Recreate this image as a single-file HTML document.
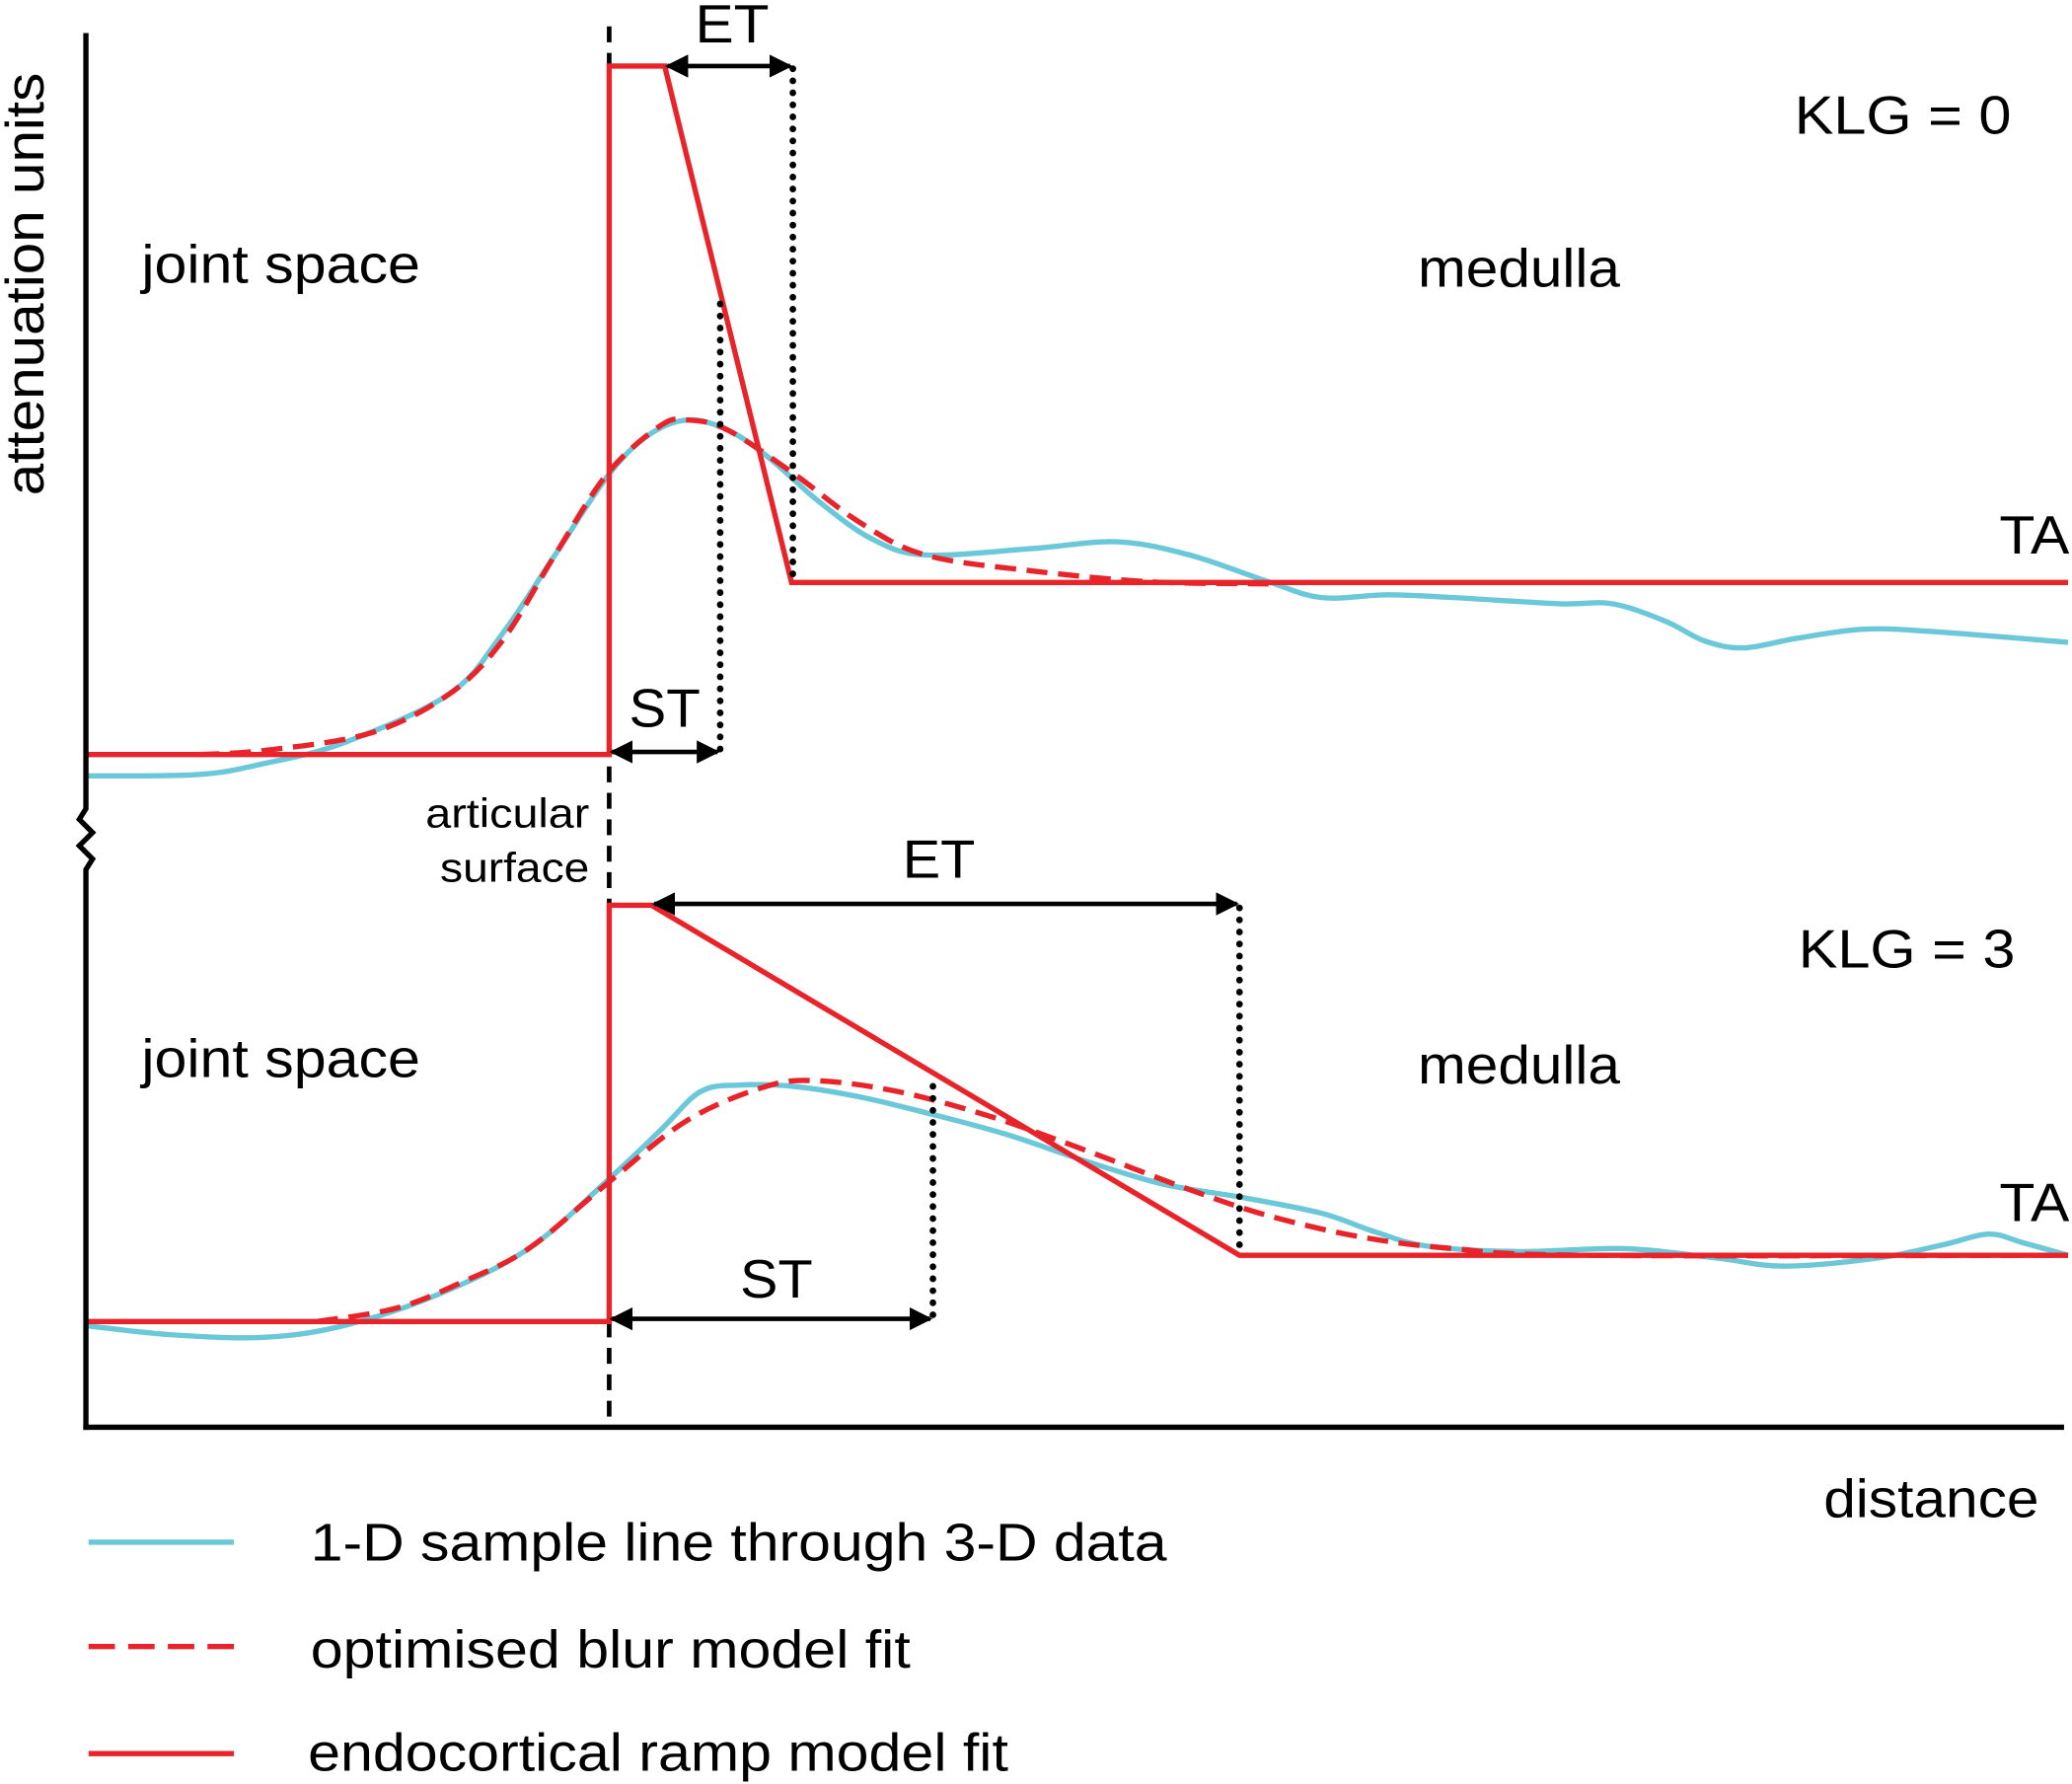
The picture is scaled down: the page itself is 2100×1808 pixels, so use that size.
<!DOCTYPE html>
<html><head><meta charset="utf-8"><style>
html,body{margin:0;padding:0;background:#fff}
svg{display:block}
text{font-family:"Liberation Sans",Arial,sans-serif;fill:#000}
</style></head><body>
<svg id="chart" width="2100" height="1808" viewBox="0 0 1568 1350" xmlns="http://www.w3.org/2000/svg">
<defs>
<marker id="ah" viewBox="0 0 10 10" refX="9" refY="5" markerWidth="5" markerHeight="5" orient="auto-start-reverse"><path d="M0,0 L10,5 L0,10 z" fill="#000"/></marker>
</defs>
<line x1="461" y1="20" x2="461" y2="1080" stroke="#000" stroke-width="3.5" stroke-dasharray="12,8"/>
<g id="marks"></g>
<g stroke="#000" stroke-width="4" fill="none">
<path d="M65,25 L65,612 L60,620 L70,630 L60,640 L70,650 L65,658 L65,1082"/>
<path d="M63,1080 L1562,1080"/>
</g>
<g stroke="#000" stroke-width="5" stroke-dasharray="0.1,9" stroke-linecap="round">
<line x1="600" y1="52" x2="600" y2="441"/>
<line x1="545" y1="230" x2="545" y2="571"/>
<line x1="938" y1="687" x2="938" y2="950"/>
<line x1="706" y1="822" x2="706" y2="1000"/>
</g>
<g stroke="#000" stroke-width="3.5" marker-start="url(#ah)" marker-end="url(#ah)">
<line x1="505" y1="50" x2="598" y2="50"/>
<line x1="463" y1="569" x2="543" y2="569"/>
<line x1="495" y1="684" x2="936" y2="684"/>
<line x1="463" y1="998" x2="704" y2="998"/>
</g>
<g font-size="41" lengthAdjust="spacingAndGlyphs">
<text transform="translate(33,215) rotate(-90)" text-anchor="middle" textLength="320" lengthAdjust="spacingAndGlyphs">attenuation units</text>
<text x="107" y="214" textLength="211" lengthAdjust="spacingAndGlyphs">joint space</text>
<text x="1073" y="217" textLength="153" lengthAdjust="spacingAndGlyphs">medulla</text>
<text x="1358" y="101" textLength="164" lengthAdjust="spacingAndGlyphs">KLG = 0</text>
<text x="1513" y="419" textLength="53" lengthAdjust="spacingAndGlyphs">TA</text>
<text x="526" y="32" textLength="56" lengthAdjust="spacingAndGlyphs">ET</text>
<text x="476" y="550" textLength="54" lengthAdjust="spacingAndGlyphs">ST</text>
<text x="107" y="815" textLength="211" lengthAdjust="spacingAndGlyphs">joint space</text>
<text x="1073" y="820" textLength="153" lengthAdjust="spacingAndGlyphs">medulla</text>
<text x="1361" y="732" textLength="164" lengthAdjust="spacingAndGlyphs">KLG = 3</text>
<text x="1513" y="924" textLength="53" lengthAdjust="spacingAndGlyphs">TA</text>
<text x="683" y="664" textLength="55" lengthAdjust="spacingAndGlyphs">ET</text>
<text x="560" y="982" textLength="55" lengthAdjust="spacingAndGlyphs">ST</text>
<text x="1380" y="1148" textLength="163" lengthAdjust="spacingAndGlyphs">distance</text>
</g>
<g font-size="31">
<text x="322" y="626" textLength="124" lengthAdjust="spacingAndGlyphs">articular</text>
<text x="333" y="667" textLength="113" lengthAdjust="spacingAndGlyphs">surface</text>
</g>
<g font-size="40">
<line x1="67" y1="1167" x2="177" y2="1167" stroke="#6ac8d9" stroke-width="4"/>
<text x="235" y="1181" textLength="648" lengthAdjust="spacingAndGlyphs">1-D sample line through 3-D data</text>
<line x1="67" y1="1246" x2="177" y2="1246" stroke="#e8232a" stroke-width="4" stroke-dasharray="20,10"/>
<text x="235" y="1262" textLength="454" lengthAdjust="spacingAndGlyphs">optimised blur model fit</text>
<line x1="67" y1="1327" x2="177" y2="1327" stroke="#e8232a" stroke-width="4"/>
<text x="233" y="1340" textLength="530" lengthAdjust="spacingAndGlyphs">endocortical ramp model fit</text>
</g>
</svg>
<script>
// distance units along sample line
var topCyanX=[0,85,135,195,275,315,355,395,425,455,485,515,555,595,635,715,780,835,895,935,985,1035,1115,1155,1195,1225,1255,1295,1345,1395,1500];
var topCyanV=[-3.1,-2.9,-1.3,1.7,8.8,17.5,29,40.5,46.3,48.6,47.2,43.4,36.7,31.3,29,29.9,30.9,29,25.1,22.8,23.2,22.8,21.9,21.9,19.4,16.5,15.5,16.9,18.2,17.9,16.3];
var topBlurX=[85,135,215,275,315,355,395,435,455,485,535,585,635,715,805,895];
var topBlurV=[0,0.6,3.1,8.8,16.5,29,40.9,47.8,48.6,47.2,40.9,33.8,29,26.7,25.1,24.8];
var topRampX=[0,396,396,438,534,1500];
var topRampV=[0,0,100,100,25,25];
var botCyanX=[0,65,135,195,265,335,395,435,465,495,535,585,635,695,755,815,875,935,975,1015,1085,1165,1235,1285,1355,1405,1440,1465,1500];
var botCyanV=[-1,-3.2,-3.8,-1,6.3,17.5,34,46,55.2,56.8,56.5,54,50.2,45.1,38.7,33,29.8,26,21.6,18.1,16.8,17.5,15.2,13.3,15.2,18.4,21,19,15.9];
var botBlurX=[175,235,285,335,395,455,515,555,615,685,755,835,895,965,1035,1135,1500];
var botBlurV=[0,3.2,9.5,17.5,33.3,48.3,56.5,57.8,55.2,49.2,41.3,31.7,25.4,20.3,17.5,15.9,15.9];
var botRampX=[0,396,396,428,873,1500];
var botRampV=[0,0,100,100,15.9,15.9];

function xs(d){return 65+d;}
function yTop(v){return 571-v*5.21;}
function yBot(v){return 1000-v*3.15;}
function pts(X,V,ys){return X.map(function(x,i){return [xs(x),ys(V[i])];});}
function smooth(p){
  var d='M'+p[0][0]+','+p[0][1];
  for(var i=0;i<p.length-1;i++){
    var p0=p[i-1]||p[i],p1=p[i],p2=p[i+1],p3=p[i+2]||p2;
    var c1x=p1[0]+(p2[0]-p0[0])/6,c1y=p1[1]+(p2[1]-p0[1])/6;
    var c2x=p2[0]-(p3[0]-p1[0])/6,c2y=p2[1]-(p3[1]-p1[1])/6;
    d+=' C'+c1x+','+c1y+' '+c2x+','+c2y+' '+p2[0]+','+p2[1];
  }
  return d;
}
function poly(p){return 'M'+p.map(function(q){return q[0]+','+q[1];}).join(' L');}
var g=document.getElementById('marks');
function add(d,color,dash,name){
  var e=document.createElementNS('http://www.w3.org/2000/svg','path');
  e.setAttribute('d',d);e.setAttribute('fill','none');e.setAttribute('stroke',color);
  e.setAttribute('stroke-width','4');if(dash)e.setAttribute('stroke-dasharray',dash);
  
  
  g.appendChild(e);
}
add(smooth(pts(topCyanX,topCyanV,yTop)),'#6ac8d9',null,'sample-line-klg0');
add(smooth(pts(botCyanX,botCyanV,yBot)),'#6ac8d9',null,'sample-line-klg3');
add(smooth(pts(topBlurX,topBlurV,yTop)),'#e8232a','16,8','blur-fit-klg0');
add(smooth(pts(botBlurX,botBlurV,yBot)),'#e8232a','16,8','blur-fit-klg3');
add(poly(pts(topRampX,topRampV,yTop)),'#e8232a',null,'ramp-fit-klg0');
add(poly(pts(botRampX,botRampV,yBot)),'#e8232a',null,'ramp-fit-klg3');
</script>
</body></html>
